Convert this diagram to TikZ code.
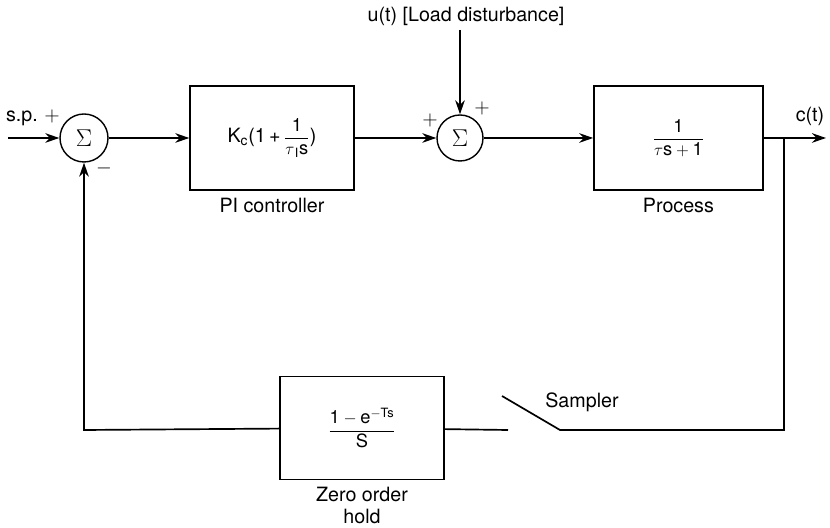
\documentclass[tikz,border=0pt]{standalone}
\usepackage{amsmath}
\usepackage{fontspec}
\setmainfont{TeX Gyre Heros}
\usetikzlibrary{positioning,arrows.meta}

\newcommand{\fracsize}{\fontsize{13}{15}\selectfont}

\begin{document}
\begin{tikzpicture}[
    block/.style={draw, line width=1pt, rectangle, minimum width=4.1cm, minimum height=2.6cm, align=center},
    sumnode/.style={draw, line width=1pt, circle, minimum size=1.2cm, inner sep=0pt, font=\LARGE},
    signal/.style={->, line width=1.2pt},
    wire/.style={line width=1.2pt},
    caption/.style={align=center, inner sep=1pt},
    >={Stealth[length=3.5mm, width=2.4mm]},
    font=\fontsize{14}{16}\selectfont
]
\useasboundingbox (0,0) rectangle (20.75,13.2);

% Summing junctions
\node[sumnode] (S1) at (2.1, 9.75) {$\Sigma$};
\node[sumnode, minimum size=1.15cm] (S2) at (11.5, 9.75) {$\Sigma$};

% Blocks
\node[block] (PI) at (6.8, 9.75) {K\textsubscript{c}(1\,+\,{\fracsize$\dfrac{\text{1}}{\tau_{\,\text{I}}\text{s}}$})};
\node[block, minimum width=4.225cm] (P) at (16.96, 9.75) {\fracsize$\dfrac{\text{1}}{\tau\text{s} + \text{1}}$};
\node[block, minimum height=2.575cm] (ZOH) at (9.05, 2.5) {\fracsize$\dfrac{\text{1} - \text{e}^{-\text{Ts}}}{\text{S}}$};

% Block captions
\node[caption, below=0.15cm of PI] (PIlab) {PI controller};
\node[caption, below=0.15cm of P] (Plab) {Process};
\node[caption, below=0.12cm of ZOH] (ZOHlab) {Zero order\\hold};

% Inputs and outputs
\coordinate (SP) at (0.2, 9.75);
\coordinate (OUT) at (20.65, 9.75);
\coordinate (BR) at (19.6, 9.75);
\coordinate (BRlow) at (19.6, 2.45);
\coordinate (SWa) at (14.0, 2.45);
\coordinate (SWb) at (12.55, 3.3);
\coordinate (SWc) at (12.7, 2.45);
\coordinate (FB) at (2.1, 2.45);
\node[inner sep=1pt] (DIST) at (11.65, 12.8) {u(t) [Load disturbance]};
\coordinate (DISTin) at (11.5, 12.45);

% Signs and labels
\node (SPlab) at (0.55, 10.25) {s.p.};
\node (pA) at (1.3, 10.3) {$+$};
\node (mA) at (2.6, 9.0) {$-$};
\node (pB) at (10.75, 10.2) {$+$};
\node (pC) at (12.05, 10.5) {$+$};
\node (Clab) at (20.25, 10.3) {c(t)};
\node (SWlab) at (14.55, 3.15) {Sampler};

% Forward path
\draw[signal] (SP) -- (S1);
\draw[signal] (S1) -- (PI);
\draw[signal] (PI) -- (S2);
\draw[signal] (S2) -- (P);
\draw[signal] (P) -- (OUT);
\draw[signal] (DISTin) -- (S2);

% Feedback path with sampler
\draw[wire] (BR) -- (BRlow) -- (SWa) -- (SWb);
\draw[wire] (SWc) -- (ZOH);
\draw[signal] (ZOH) -- (FB) -- (S1);

\end{tikzpicture}
\end{document}
